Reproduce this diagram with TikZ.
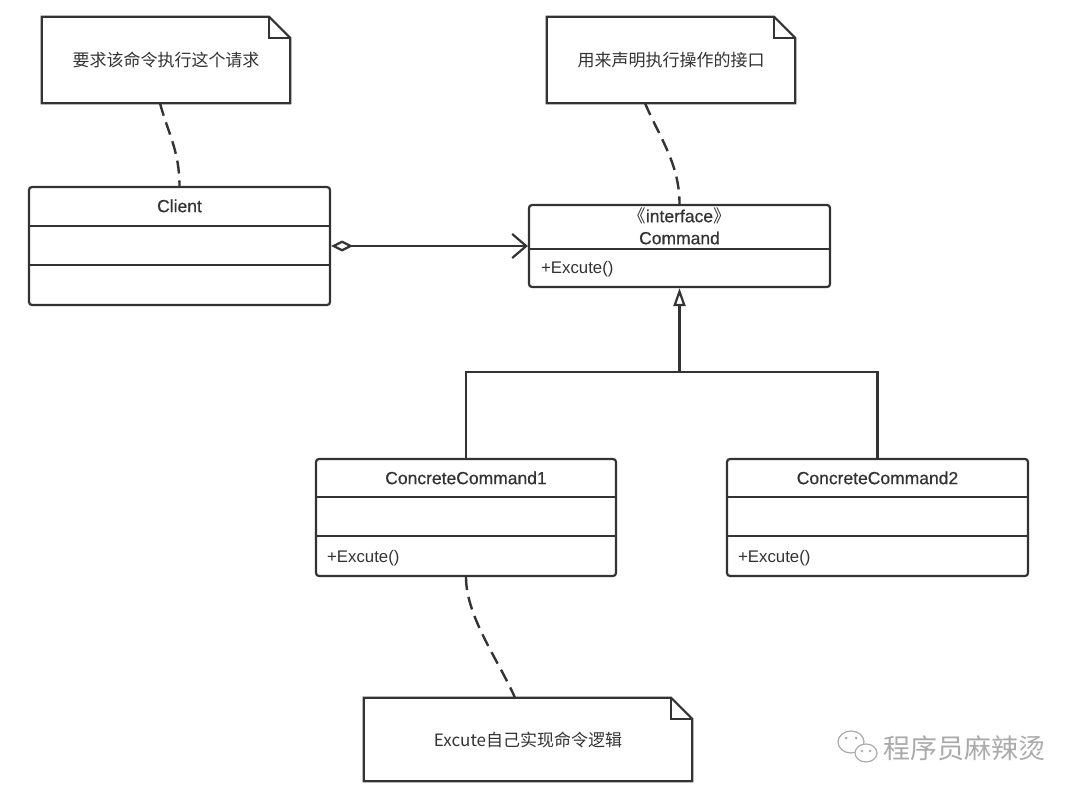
\documentclass[tikz,border=0pt]{standalone}
\usepackage{fontspec}
\setmainfont{Liberation Sans}
\newfontfamily\cjk{Noto Sans CJK SC}
\newfontfamily\namefont{Liberation Sans}[FakeBold=0.6]
\usepackage{tikz}
\usetikzlibrary{shapes, arrows.meta, positioning, calc}

\definecolor{ink}{HTML}{333333}
\definecolor{wmgrey}{HTML}{AAAAAA}

\tikzset{
	klass/.style={draw=ink, line width=2.2pt, rounded corners=3pt, minimum width=301pt, inner sep=0pt},
	note/.style={inner sep=0pt, minimum height=86pt, text=ink, font=\cjk\fontsize{17}{20}\selectfont},
	classname/.style={text=ink, align=center, font=\namefont\fontsize{17.5}{22}\selectfont},
	method/.style={anchor=west, inner sep=0pt, text=ink, font=\fontsize{16.8}{20}\selectfont},
	line/.style={draw=ink, line width=2.2pt},
	dashline/.style={draw=ink, line width=2.4pt, dash pattern=on 13pt off 7pt},
}

\begin{document}
\begin{tikzpicture}[x=1pt, y=-1pt]
	\useasboundingbox (0,0) rectangle (1080,797);
	\fill[white] (0,0) rectangle (1080,797);

	% notes
	\node[note, minimum width=248pt] (note1) at (166,60) {要求该命令执行这个请求};
	\node[note, minimum width=248pt] (note2) at (671,60) {用来声明执行操作的接口};
	\node[note, minimum width=328pt, minimum height=83pt] (note3) at (528,739.5) {Excute自己实现命令逻辑};
	\foreach \n in {note1, note2, note3} {
		\draw[line] (\n.north west) -- ($(\n.north east)+(-21,0)$) -- ($(\n.north east)+(0,21)$) -- (\n.south east) -- (\n.south west) -- cycle;
		\draw[line] ($(\n.north east)+(-21,0)$) |- ($(\n.north east)+(0,21)$);
	}

	% classes
	\node[klass, minimum height=118pt] (client) at (179.5,246) {};
	\node[klass, minimum height=82pt] (command) at (679.5,246) {};
	\node[klass, minimum width=300pt, minimum height=117pt] (cc1) at (466,517.5) {};
	\node[klass, minimum height=117pt] (cc2) at (877.5,517.5) {};

	\node[classname] (client-name) at ($(client.north)+(0,20)$) {Client};
	\node[classname] (command-name) at ($(command.north)+(0,22)$) {{\cjk 《}interface{\cjk 》}\\Command};
	\node[classname] (cc1-name) at ($(cc1.north)+(0,20)$) {ConcreteCommand1};
	\node[classname] (cc2-name) at ($(cc2.north)+(0,20)$) {ConcreteCommand2};

	\node[method] (command-op) at ($(command.south west)+(13,-19)$) {+Excute()};
	\node[method] (cc1-op) at ($(cc1.south west)+(12,-19)$) {+Excute()};
	\node[method] (cc2-op) at ($(cc2.south west)+(12,-19)$) {+Excute()};

	% compartments
	\foreach \n/\a/\b in {client/40/79, cc1/39/78, cc2/39/78} {
		\draw[line] ($(\n.north west)+(0,\a)$) -- ($(\n.north east)+(0,\a)$);
		\draw[line] ($(\n.north west)+(0,\b)$) -- ($(\n.north east)+(0,\b)$);
	}
	\draw[line] ($(command.north west)+(0,45)$) -- ($(command.north east)+(0,45)$);

	% relations
	\draw[line, {Diamond[open, length=22pt, width=11pt]}-{Straight Barb[length=14pt, width=24pt]}] (client.east) -- (command.west);
	\coordinate (joint) at (679.5,372);
	\draw[line, -{Triangle[open, length=18pt, width=12pt]}] (joint) -- (command.south);
	\draw[line] (cc1.north) |- (joint) -| (cc2.north);

	% note links
	\draw[dashline] ($(note1.south)+(-6,0)$) .. controls +(8,30) and +(0,-35) .. (client.north);
	\draw[dashline] ($(note2.south)+(-26,0)$) .. controls +(15,35) and +(0,-40) .. (command.north);
	\draw[dashline] (cc1.south) .. controls +(0,40) and +(-15,-35) .. ($(note3.north)+(-13,0)$);

	% watermark
	\draw[wmgrey, line width=1.2pt, fill=white] (851,742) ellipse [x radius=13, y radius=11];
	\draw[wmgrey, line width=1.2pt, fill=white] (866,753) ellipse [x radius=11, y radius=9];
	\fill[wmgrey] (846,738) circle (1.5) (856,738) circle (1.5) (862,751) circle (1.3) (870,751) circle (1.3);
	\node[text=wmgrey, inner sep=0pt, anchor=west, font=\cjk\fontsize{27}{30}\selectfont] (wm-name) at (883,748) {程序员麻辣烫};
\end{tikzpicture}
\end{document}
